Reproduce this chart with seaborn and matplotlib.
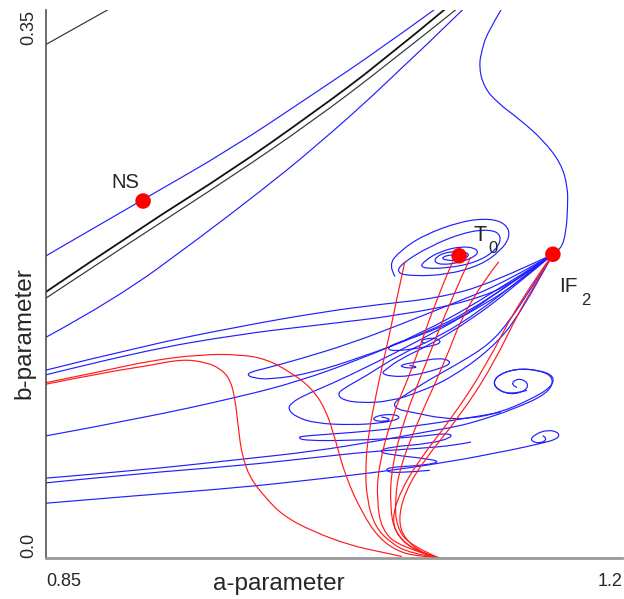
import matplotlib
matplotlib.use("Agg")
import matplotlib.pyplot as plt
from matplotlib.path import Path
from matplotlib.patches import PathPatch
import pandas as pd
import seaborn as sns

# ---------------------------------------------------------------
# Bifurcation curves in the (a, b) parameter plane, as (a, b) pairs
# ---------------------------------------------------------------

# black curves
black_corner = [(0.850, 0.328), (0.889, 0.351)]
black_main = [(0.850, 0.170), (0.909, 0.212), (0.962, 0.247), (1.012, 0.284),
              (1.053, 0.316), (1.093, 0.351)]
black_thin = [(0.850, 0.166), (0.909, 0.207), (0.962, 0.243), (1.012, 0.279),
              (1.056, 0.314), (1.100, 0.351)]

# blue curves
band_upper = [(0.850, 0.193), (0.909, 0.229), (0.962, 0.261), (1.012, 0.296),
              (1.053, 0.325), (1.087, 0.351)]
band_lower = [(0.850, 0.141), (0.892, 0.165), (0.944, 0.205), (0.980, 0.234),
              (1.012, 0.261), (1.059, 0.305), (1.104, 0.351)]
s_curve = [(1.127, 0.351), (1.118, 0.335), (1.115, 0.325), (1.113, 0.314),
           (1.116, 0.301), (1.124, 0.291), (1.138, 0.280), (1.152, 0.267),
           (1.163, 0.252), (1.167, 0.237), (1.167, 0.224), (1.166, 0.208),
           (1.163, 0.197), (1.158, 0.194)]
t0_spiral = [(1.062, 0.180), (1.058, 0.187), (1.065, 0.196), (1.079, 0.206),
             (1.102, 0.215), (1.120, 0.217), (1.130, 0.213), (1.132, 0.205),
             (1.126, 0.196), (1.114, 0.187), (1.094, 0.181), (1.073, 0.180),
             (1.063, 0.182), (1.066, 0.188), (1.083, 0.199), (1.104, 0.208),
             (1.120, 0.210), (1.127, 0.206), (1.124, 0.197), (1.112, 0.189),
             (1.094, 0.185), (1.077, 0.185), (1.080, 0.190), (1.090, 0.196),
             (1.102, 0.199), (1.111, 0.198), (1.113, 0.194), (1.103, 0.189),
             (1.090, 0.187), (1.085, 0.190), (1.091, 0.195), (1.102, 0.196),
             (1.108, 0.194), (1.103, 0.190), (1.093, 0.190), (1.090, 0.192),
             (1.097, 0.194), (1.104, 0.193), (1.099, 0.191)]
left_1 = [(0.850, 0.120), (0.907, 0.135), (0.968, 0.148), (1.017, 0.157),
          (1.053, 0.162), (1.088, 0.166), (1.120, 0.175), (1.158, 0.194)]
left_2 = [(0.850, 0.117), (0.907, 0.132), (0.968, 0.143), (1.017, 0.149),
          (1.065, 0.155), (1.108, 0.164), (1.135, 0.176), (1.158, 0.194)]
left_3 = [(0.850, 0.078), (0.907, 0.089), (0.968, 0.103), (1.004, 0.113),
          (1.041, 0.127), (1.077, 0.143), (1.114, 0.164), (1.158, 0.194)]
tongue_1 = [(1.158, 0.194), (1.129, 0.176), (1.096, 0.162), (1.065, 0.149),
            (1.035, 0.137), (1.004, 0.127), (0.983, 0.121), (0.975, 0.119),
            (0.972, 0.117), (0.976, 0.115), (0.986, 0.114), (1.011, 0.118),
            (1.041, 0.128), (1.077, 0.142), (1.114, 0.161), (1.158, 0.194)]
tongue_2 = [(1.158, 0.194), (1.126, 0.171), (1.102, 0.153), (1.077, 0.142),
            (1.062, 0.137), (1.057, 0.134), (1.061, 0.132), (1.077, 0.134),
            (1.091, 0.137), (1.087, 0.141), (1.076, 0.139), (1.080, 0.137)]
tongue_3 = [(1.158, 0.194), (1.132, 0.171), (1.108, 0.152), (1.083, 0.136),
            (1.065, 0.127), (1.056, 0.120), (1.054, 0.118), (1.059, 0.116),
            (1.071, 0.116), (1.090, 0.121), (1.097, 0.125), (1.090, 0.128),
            (1.074, 0.125), (1.064, 0.123), (1.070, 0.121), (1.077, 0.122),
            (1.071, 0.123)]
tongue_4 = [(1.158, 0.194), (1.138, 0.178), (1.114, 0.158), (1.090, 0.142),
            (1.065, 0.130), (1.044, 0.116), (1.032, 0.109), (1.027, 0.105),
            (1.030, 0.101), (1.041, 0.099), (1.059, 0.100), (1.077, 0.106),
            (1.096, 0.115), (1.120, 0.133), (1.138, 0.155), (1.158, 0.194)]
lobe = [(1.158, 0.194), (1.135, 0.174), (1.108, 0.157), (1.077, 0.139),
        (1.047, 0.123), (1.023, 0.111), (1.007, 0.104), (0.999, 0.099),
        (0.997, 0.095), (1.002, 0.090), (1.014, 0.086), (1.035, 0.085),
        (1.053, 0.086), (1.066, 0.089), (1.062, 0.092), (1.051, 0.091),
        (1.048, 0.088), (1.056, 0.087), (1.060, 0.089), (1.054, 0.090)]
arm = [(1.158, 0.194), (1.144, 0.171), (1.132, 0.152), (1.120, 0.137),
       (1.102, 0.125), (1.083, 0.114), (1.068, 0.104), (1.061, 0.099),
       (1.063, 0.095), (1.073, 0.093), (1.091, 0.089), (1.108, 0.089),
       (1.126, 0.093), (1.144, 0.101), (1.157, 0.109), (1.159, 0.116),
       (1.150, 0.120), (1.135, 0.121), (1.123, 0.116), (1.122, 0.109),
       (1.132, 0.104), (1.142, 0.107), (1.143, 0.112), (1.137, 0.115),
       (1.132, 0.111), (1.136, 0.109)]
left_4 = [(0.850, 0.051), (0.907, 0.056), (0.968, 0.063), (1.012, 0.068),
          (1.053, 0.075), (1.083, 0.081), (1.100, 0.084), (1.114, 0.088),
          (1.134, 0.095), (1.155, 0.105), (1.159, 0.115), (1.150, 0.120),
          (1.135, 0.121), (1.123, 0.116), (1.122, 0.109), (1.132, 0.104),
          (1.142, 0.107)]
zigzag = [(1.126, 0.093), (1.099, 0.088), (1.065, 0.083), (1.035, 0.080),
          (1.007, 0.078), (1.003, 0.077), (1.007, 0.075), (1.035, 0.075),
          (1.073, 0.077), (1.095, 0.080), (1.097, 0.077), (1.083, 0.073),
          (1.059, 0.071), (1.052, 0.068), (1.059, 0.066), (1.085, 0.063),
          (1.089, 0.061), (1.077, 0.059), (1.059, 0.058), (1.056, 0.056),
          (1.062, 0.054), (1.083, 0.056)]
left_5 = [(0.850, 0.048), (0.907, 0.054), (0.968, 0.059), (1.012, 0.064),
          (1.047, 0.068), (1.077, 0.070), (1.099, 0.072), (1.108, 0.074)]
left_6 = [(0.850, 0.035), (0.907, 0.040), (0.968, 0.045), (1.012, 0.050),
          (1.053, 0.055), (1.093, 0.061), (1.133, 0.069), (1.150, 0.073),
          (1.161, 0.076), (1.162, 0.080), (1.155, 0.082), (1.147, 0.079),
          (1.144, 0.075), (1.150, 0.073), (1.155, 0.076), (1.152, 0.078)]

# red curves
red_outer = [(0.850, 0.112), (0.883, 0.119), (0.913, 0.126), (0.944, 0.130),
             (0.968, 0.130), (0.984, 0.127), (0.998, 0.119), (1.011, 0.109),
             (1.020, 0.095), (1.026, 0.075), (1.032, 0.052), (1.042, 0.029),
             (1.052, 0.013), (1.064, 0.004), (1.077, 0.001), (1.090, 0.000)]
red_inner = [(0.850, 0.111), (0.883, 0.118), (0.913, 0.123), (0.933, 0.127),
             (0.947, 0.125), (0.956, 0.121), (0.962, 0.114), (0.965, 0.101),
             (0.967, 0.082), (0.969, 0.066), (0.974, 0.051), (0.983, 0.039),
             (0.994, 0.027), (1.012, 0.017), (1.035, 0.008), (1.053, 0.004),
             (1.066, 0.001)]
red_1 = [(1.068, 0.189), (1.063, 0.165), (1.059, 0.144), (1.052, 0.112),
         (1.046, 0.080), (1.044, 0.058), (1.045, 0.037), (1.050, 0.020),
         (1.059, 0.010), (1.071, 0.003), (1.089, 0.000)]
red_2 = [(1.097, 0.189), (1.087, 0.165), (1.073, 0.122), (1.060, 0.090),
         (1.052, 0.058), (1.051, 0.037), (1.054, 0.018), (1.065, 0.007),
         (1.089, 0.000)]
red_3 = [(1.108, 0.192), (1.096, 0.165), (1.080, 0.122), (1.068, 0.090),
         (1.060, 0.058), (1.059, 0.033), (1.062, 0.016), (1.073, 0.005),
         (1.089, 0.000)]
red_4 = [(1.125, 0.189), (1.107, 0.165), (1.091, 0.122), (1.077, 0.090),
         (1.065, 0.058), (1.062, 0.037), (1.063, 0.020), (1.071, 0.008),
         (1.089, 0.000)]
red_5 = [(1.158, 0.194), (1.138, 0.165), (1.117, 0.122), (1.097, 0.090),
         (1.077, 0.063), (1.065, 0.042), (1.060, 0.024), (1.065, 0.012),
         (1.079, 0.002), (1.089, 0.000)]
red_6 = [(1.158, 0.194), (1.141, 0.165), (1.121, 0.122), (1.101, 0.090),
         (1.080, 0.063), (1.068, 0.042), (1.064, 0.024), (1.068, 0.012),
         (1.080, 0.002), (1.089, 0.000)]

# labelled special points
point_names = ["NS", "T0", "IF2"]
point_a = [0.909, 1.101, 1.158]
point_b = [0.228, 0.193, 0.194]

# axis ticks
x_ticks = [0.85, 1.2]
x_tick_labels = ["0.85", "1.2"]
y_ticks = [0.0, 0.35]
y_tick_labels = ["0.0", "0.35"]

groups = {
    "blue": [band_upper, band_lower, s_curve, t0_spiral, left_1, left_2, left_3,
             tongue_1, tongue_2, tongue_3, tongue_4, lobe, arm, left_4, zigzag,
             left_5, left_6],
    "red": [red_outer, red_inner, red_1, red_2, red_3, red_4, red_5, red_6],
    "black": [black_corner, black_thin],
    "blackmain": [black_main],
}
rows = []
cid = 0
for kind, curves in groups.items():
    for pts in curves:
        for k, (a, b) in enumerate(pts):
            rows.append({"kind": kind, "curve": cid, "order": k, "a": a, "b": b})
        cid += 1
df = pd.DataFrame(rows)

sns.set_style("white")
plt.rcParams["font.family"] = ["Liberation Sans", "DejaVu Sans"]

fig = plt.figure(figsize=(6.24, 5.99), dpi=100)
ax = fig.add_axes([46 / 624, 41 / 599, 576 / 624, 548 / 599])

styles = {
    "blue": dict(edgecolor="#1f1fff", lw=0.85),
    "red": dict(edgecolor="#ff1a1a", lw=0.85),
    "black": dict(edgecolor="#333333", lw=0.85),
    "blackmain": dict(edgecolor="#111111", lw=1.3),
}


def curve_path(verts):
    """Smooth path through a polyline using quadratic segments."""
    if len(verts) < 3:
        return Path(verts)
    out = [verts[0]]
    codes = [Path.MOVETO]
    n = len(verts)
    for i in range(1, n - 1):
        ctrl = verts[i]
        if i == n - 2:
            end = verts[-1]
        else:
            end = ((verts[i][0] + verts[i + 1][0]) / 2,
                   (verts[i][1] + verts[i + 1][1]) / 2)
        out += [ctrl, end]
        codes += [Path.CURVE3, Path.CURVE3]
    return Path(out, codes)


for kind in ["blue", "red", "black", "blackmain"]:
    sub = df[df["kind"] == kind]
    for _, g in sub.groupby("curve"):
        g = g.sort_values("order")
        verts = list(zip(g["a"], g["b"]))
        ax.add_patch(PathPatch(curve_path(verts), fill=False,
                               capstyle="round", joinstyle="round",
                               **styles[kind]))

pts = pd.DataFrame({"name": point_names, "a": point_a, "b": point_b})
sns.scatterplot(data=pts, x="a", y="b", ax=ax, color="#ff0000", s=125,
                edgecolor="none", zorder=5, legend=False)

ax.text(0.890, 0.236, "NS", fontsize=14.5, ha="left", va="baseline")
ax.text(1.110, 0.2025, "T", fontsize=15.5, ha="left", va="baseline")
ax.text(1.119, 0.1945, "0", fontsize=12, ha="left", va="baseline")
ax.text(1.162, 0.170, "IF", fontsize=15, ha="left", va="baseline")
ax.text(1.175, 0.1615, "2", fontsize=12, ha="left", va="baseline")

ax.set_xlim(0.85, 1.2)
ax.set_ylim(0.0, 0.35)
ax.set_xticks(x_ticks)
ax.set_xticklabels(x_tick_labels, fontsize=13)
ax.set_yticks(y_ticks)
ax.set_yticklabels(y_tick_labels, fontsize=13, rotation=90)
xl = ax.get_xticklabels()
xl[0].set_ha("left")
xl[1].set_ha("right")
yl = ax.get_yticklabels()
yl[0].set_va("bottom")
yl[1].set_va("top")
ax.tick_params(axis="x", length=0, pad=11)
ax.tick_params(axis="y", length=0, pad=6)
ax.set_xlabel("")
ax.set_ylabel("")

for side in ["top", "right"]:
    ax.spines[side].set_visible(False)
ax.spines["left"].set_color("#444444")
ax.spines["left"].set_linewidth(1.1)
ax.spines["bottom"].set_color("#999999")
ax.spines["bottom"].set_linewidth(2)

fig.text(279 / 624, 1 - 590 / 599, "a-parameter", fontsize=17.5,
         ha="center", va="baseline")
fig.text(35 / 624, 1 - 333 / 599, "b-parameter", fontsize=17.5,
         ha="right", va="center", rotation=90)

fig.savefig("out.png", dpi=100)
